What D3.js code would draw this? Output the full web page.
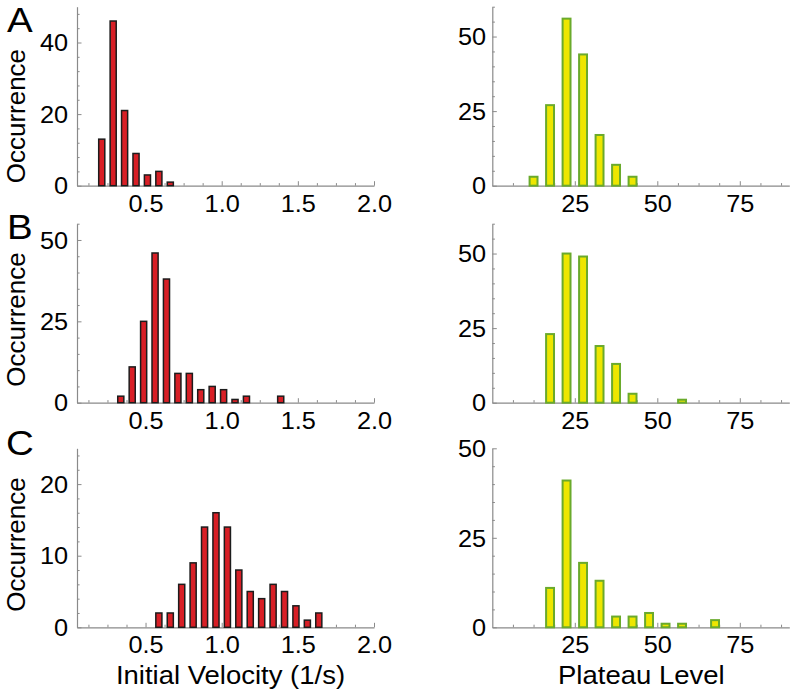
<!DOCTYPE html>
<html>
<head>
<meta charset="utf-8">
<script src="https://cdn.jsdelivr.net/npm/d3@7"></script>
<style>
  html, body { margin: 0; padding: 0; background: #fff; }
  svg { display: block; }
  text { font-family: "Liberation Sans", Arial, Helvetica, sans-serif; fill: #000; }
</style>
</head>
<body>
<svg id="chart" width="793" height="695"></svg>
<script>
// ---------------- DATA ----------------
// Initial velocity histograms (bin centres, 1/s) and counts
const velA_x = [0.2125, 0.2875, 0.3625, 0.4375, 0.5125, 0.5875, 0.6625];
const velA_n = [13, 46, 21, 9, 3, 4, 1];
const velB_x = [0.3375, 0.4125, 0.4875, 0.5625, 0.6375, 0.7125, 0.7875, 0.8625, 0.9375, 1.0125, 1.0875, 1.1625, 1.3875];
const velB_n = [2, 11, 25, 46, 38, 9, 9, 4, 5, 4, 1, 2, 2];
const velC_x = [0.5875, 0.6625, 0.7375, 0.8125, 0.8875, 0.9625, 1.0375, 1.1125, 1.1875, 1.2625, 1.3375, 1.4125, 1.4875, 1.5625, 1.6375];
const velC_n = [2, 2, 6, 9, 14, 16, 14, 8, 5, 4, 6, 5, 3, 1, 2];
// Plateau level histograms (bin centres) and counts
const platA_x = [12.5, 17.5, 22.5, 27.5, 32.5, 37.5, 42.5];
const platA_n = [3, 27, 56, 44, 17, 7, 3];
const platB_x = [17.5, 22.5, 27.5, 32.5, 37.5, 42.5, 57.5];
const platB_n = [23, 50, 49, 19, 13, 3, 1];
const platC_x = [17.5, 22.5, 27.5, 32.5, 37.5, 42.5, 47.5, 52.5, 57.5, 67.5];
const platC_n = [11, 41, 18, 13, 3, 3, 4, 1, 1, 2];

// Tick values
const velXMajor = [0.5, 1.0, 1.5, 2.0];
const velXMinor = [0.125, 0.25, 0.375, 0.625, 0.75, 0.875, 1.125, 1.25, 1.375, 1.625, 1.75, 1.875];
const platXMajor = [25, 50, 75];
const platXMinor = [6.25, 12.5, 18.75, 31.25, 37.5, 43.75, 56.25, 62.5, 68.75, 81.25, 87.5];
const velAYMajor = [0, 20, 40];
const velAYMinor = [4, 8, 12, 16, 24, 28, 32, 36, 44, 48];
const velBYMajor = [0, 25, 50];
const velBYMinor = [5, 10, 15, 20, 30, 35, 40, 45, 55];
const velCYMajor = [0, 10, 20];
const velCYMinor = [2, 4, 6, 8, 12, 14, 16, 18, 22, 24];
const platABYMajor = [0, 25, 50];
const platABYMinor = [5, 10, 15, 20, 30, 35, 40, 45, 55, 60];
const platCYMajor = [0, 25, 50];
const platCYMinor = [5, 10, 15, 20, 30, 35, 40, 45];

const panelLetters = ["A", "B", "C"];
const yTitle = "Occurrence";
const xTitleLeft = "Initial Velocity (1/s)";
const xTitleRight = "Plateau Level";

// ---------------- LAYOUT ----------------
const svg = d3.select("#chart");
const AX = "#8a8a8a";
const SX = 1.1; // horizontal glyph stretch of the original figure

const rows = [
  { top: 6.7, base: 185.7 },
  { top: 223.7, base: 402.7 },
  { top: 448.3, base: 627.3 }
];
const leftX = [77, 374], rightX = [492.3, 789.3];

const red = { fill: "#d81f26", stroke: "#1c1c1c", sw: 1.5, w: 0.04 };
const yel = { fill: "#eee600", stroke: "#6aaa2c", sw: 2, w: 2.4 };

function panel(o) {
  const x = d3.scaleLinear().domain(o.xDomain).range(o.xRange);
  const y = d3.scaleLinear().domain(o.yDomain).range([o.base, o.top]);
  const g = svg.append("g");

  // minor y ticks
  const gyMin = g.append("g").attr("transform", `translate(${o.xRange[0]},0)`)
    .call(d3.axisLeft(y).tickValues(o.yMinor).tickSize(-2.6).tickFormat(""));
  gyMin.select(".domain").remove();
  // major y
  const gy = g.append("g").attr("transform", `translate(${o.xRange[0]},0)`)
    .call(d3.axisLeft(y).tickValues(o.yMajor).tickSize(-4.5).tickSizeOuter(0).tickFormat(d3.format("d")));
  // minor x
  const gxMin = g.append("g").attr("transform", `translate(0,${o.base})`)
    .call(d3.axisBottom(x).tickValues(o.xMinor).tickSize(-2.6).tickFormat(""));
  gxMin.select(".domain").remove();
  // major x
  const gx = g.append("g").attr("transform", `translate(0,${o.base})`)
    .call(d3.axisBottom(x).tickValues(o.xMajor).tickSize(-4.5).tickSizeOuter(0).tickFormat(o.xFmt));

  [gyMin, gy, gxMin, gx].forEach(a => {
    a.attr("font-size", null).attr("font-family", null);
    a.selectAll("line").attr("stroke", AX).attr("stroke-width", 1);
    a.selectAll(".domain").attr("stroke", AX).attr("stroke-width", 1.2);
  });
  gy.selectAll("text")
    .attr("x", 0).attr("dy", "0.36em")
    .attr("text-anchor", "end")
    .attr("font-size", 23)
    .attr("transform", `translate(${-o.yGap},0) scale(${SX},1)`);
  gx.selectAll("text")
    .attr("y", 0).attr("dy", 0)
    .attr("text-anchor", "middle")
    .attr("font-size", 23)
    .attr("transform", `translate(0,26) scale(${SX},1)`);

  // bars
  const data = o.xs.map((v, i) => ({ c: v, n: o.ns[i] }));
  g.append("g").selectAll("rect").data(data).join("rect")
    .attr("x", d => x(d.c - o.style.w / 2))
    .attr("width", d => x(d.c + o.style.w / 2) - x(d.c - o.style.w / 2))
    .attr("y", d => y(d.n))
    .attr("height", d => y(0) - y(d.n))
    .attr("fill", o.style.fill)
    .attr("stroke", o.style.stroke)
    .attr("stroke-width", o.style.sw);
}

const f1 = d3.format(".1f"), fd = d3.format("d");
const leftData = [[velA_x, velA_n, [0, 50], velAYMajor, velAYMinor],
                  [velB_x, velB_n, [0, 55], velBYMajor, velBYMinor],
                  [velC_x, velC_n, [0, 25], velCYMajor, velCYMinor]];
const rightData = [[platA_x, platA_n, [0, 60], platABYMajor, platABYMinor],
                   [platB_x, platB_n, [0, 60], platABYMajor, platABYMinor],
                   [platC_x, platC_n, [0, 50], platCYMajor, platCYMinor]];

rows.forEach((r, i) => {
  const L = leftData[i], R = rightData[i];
  panel({ xDomain: [0.05, 2.0], xRange: leftX, yDomain: L[2], top: r.top, base: r.base,
          xs: L[0], ns: L[1], yMajor: L[3], yMinor: L[4], xMajor: velXMajor, xMinor: velXMinor,
          xFmt: f1, style: red, yGap: 9 });
  panel({ xDomain: [0, 90], xRange: rightX, yDomain: R[2], top: r.top, base: r.base,
          xs: R[0], ns: R[1], yMajor: R[3], yMinor: R[4], xMajor: platXMajor, xMinor: platXMinor,
          xFmt: fd, style: yel, yGap: 6.3 });
});

// y titles
const occBottoms = [183.3, 386.7, 611.7];
occBottoms.forEach(yb => {
  svg.append("text")
    .attr("transform", `translate(24.5,${yb}) rotate(-90)`)
    .attr("text-anchor", "start")
    .attr("font-size", 26)
    .text(yTitle);
});

// panel letters
const letterPos = [[7, 31.7], [7, 239], [6, 455]];
panelLetters.forEach((t, i) => {
  svg.append("text")
    .attr("transform", `translate(${letterPos[i][0]},${letterPos[i][1]}) scale(${SX},1)`)
    .attr("font-size", 35)
    .text(t);
});

// x titles
svg.append("text")
  .attr("transform", `translate(230.5,684) scale(${SX},1)`)
  .attr("text-anchor", "middle").attr("font-size", 25)
  .text(xTitleLeft);
svg.append("text")
  .attr("transform", `translate(641.3,684) scale(${SX},1)`)
  .attr("text-anchor", "middle").attr("font-size", 25)
  .text(xTitleRight);
</script>
</body>
</html>
